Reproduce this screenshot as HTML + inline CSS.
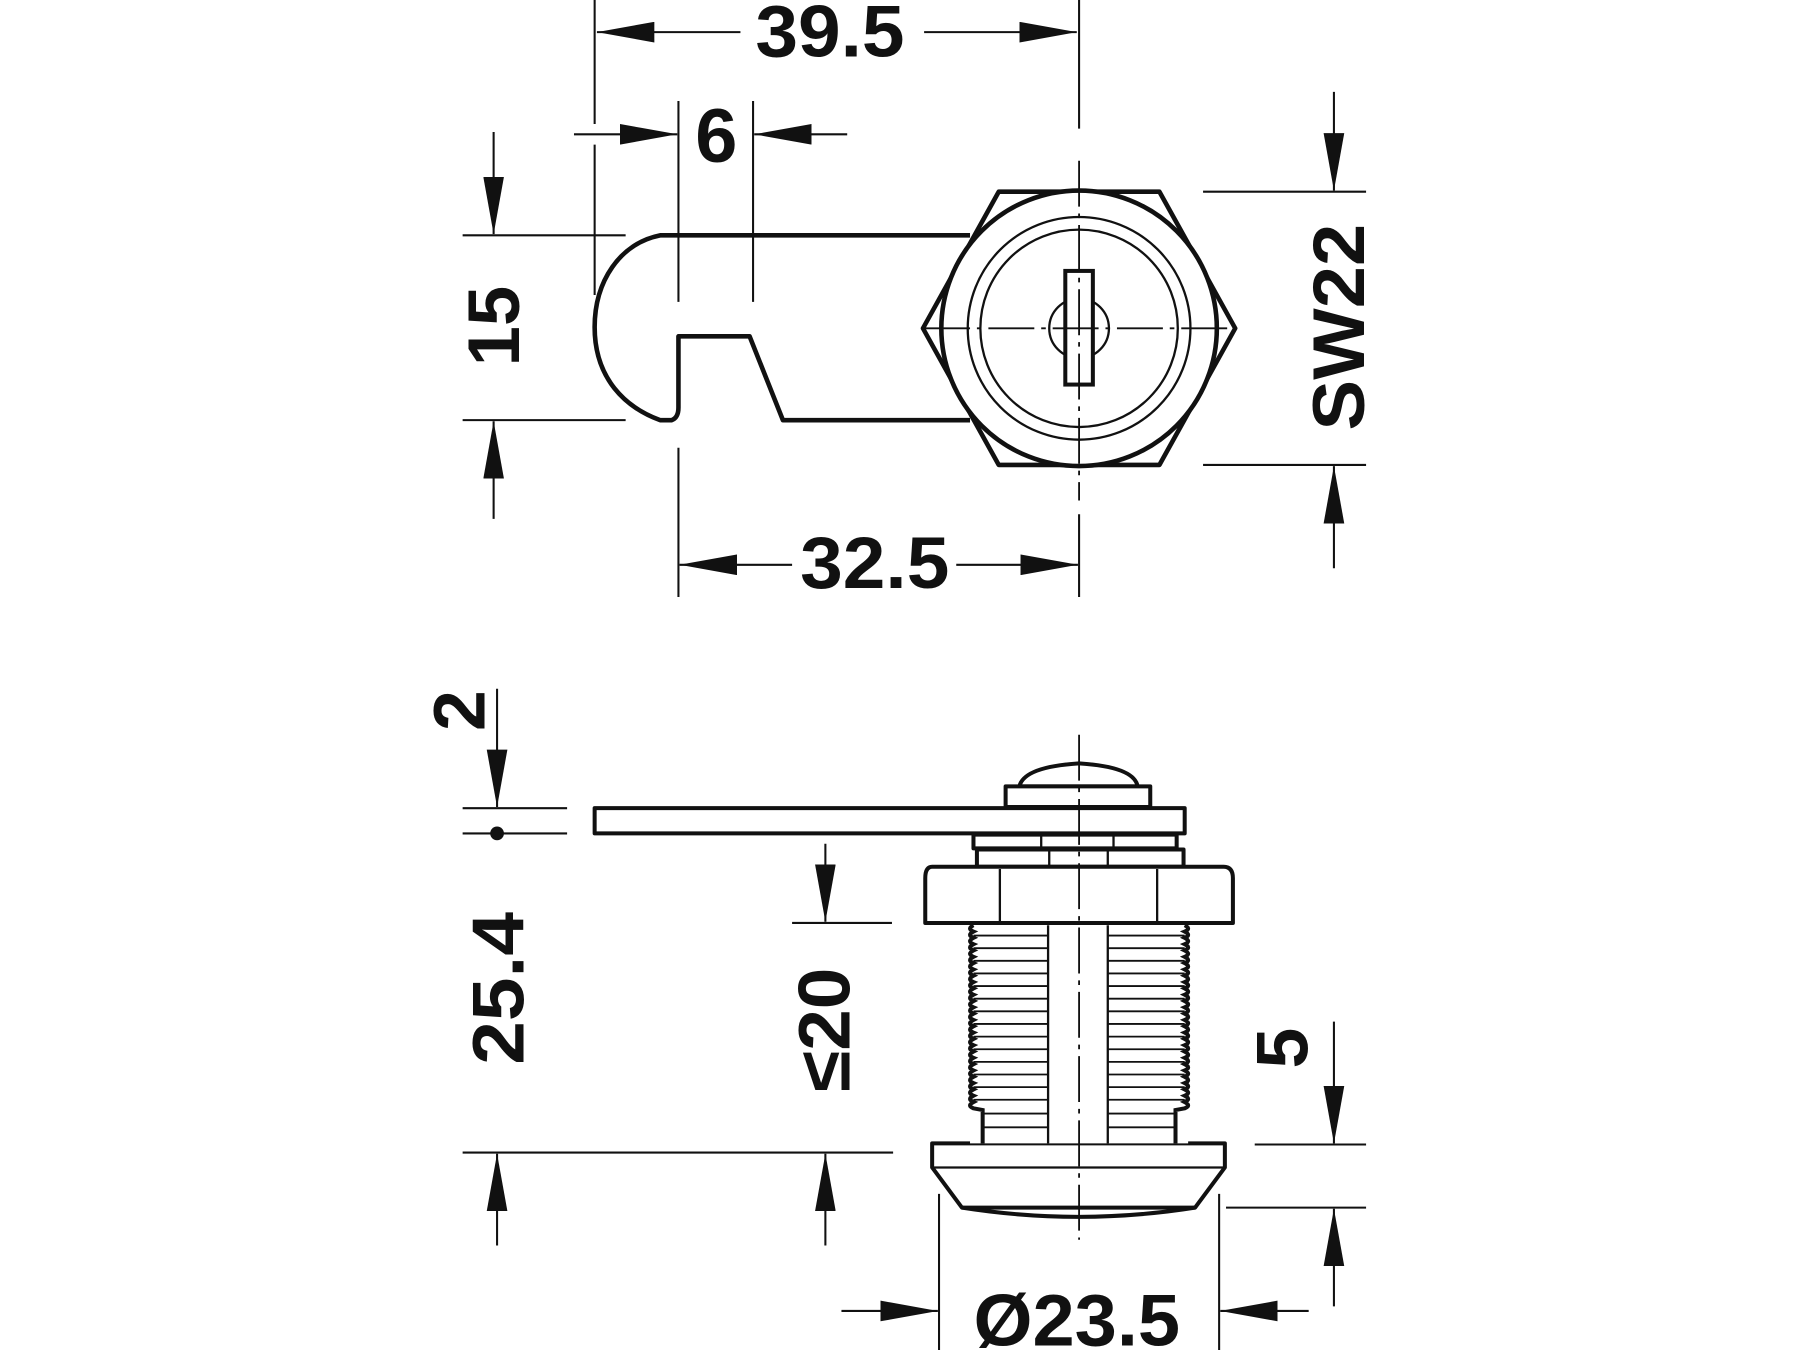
<!DOCTYPE html>
<html><head><meta charset="utf-8"><style>html,body{margin:0;padding:0;background:#fff}svg{display:block}</style></head>
<body>
<svg width="1800" height="1350" viewBox="0 0 1568 1176" xmlns="http://www.w3.org/2000/svg">
<defs>
<marker id="a" viewBox="0 0 50 18" refX="50" refY="9" markerWidth="50" markerHeight="18" markerUnits="userSpaceOnUse" orient="auto"><path d="M0,0 L50,9 L0,18 Z" fill="#111"/></marker>
</defs>
<rect width="1568" height="1176" fill="#fff"/>
<g stroke="#111" stroke-width="1.8" fill="none">
<!-- top view extension lines -->
<line x1="518" y1="0" x2="518" y2="108"/>
<line x1="518" y1="126" x2="518" y2="257"/>
<line x1="940" y1="0" x2="940" y2="112"/>
<line x1="591" y1="88" x2="591" y2="263"/>
<line x1="656" y1="88" x2="656" y2="263"/>
<line x1="403" y1="205" x2="545" y2="205"/>
<line x1="403" y1="366" x2="545" y2="366"/>
<line x1="591" y1="390" x2="591" y2="520"/>
<line x1="940" y1="448" x2="940" y2="520"/>
<line x1="1048" y1="167" x2="1190" y2="167"/>
<line x1="1048" y1="405" x2="1190" y2="405"/>
<!-- dims top -->
<line x1="645" y1="28" x2="520" y2="28" marker-end="url(#a)"/>
<line x1="805" y1="28" x2="938" y2="28" marker-end="url(#a)"/>
<line x1="500" y1="117" x2="590" y2="117" marker-end="url(#a)"/>
<line x1="738" y1="117" x2="657" y2="117" marker-end="url(#a)"/>
<line x1="430" y1="115" x2="430" y2="204" marker-end="url(#a)"/>
<line x1="430" y1="452" x2="430" y2="367" marker-end="url(#a)"/>
<line x1="690" y1="492" x2="592" y2="492" marker-end="url(#a)"/>
<line x1="833" y1="492" x2="939" y2="492" marker-end="url(#a)"/>
<line x1="1162" y1="80" x2="1162" y2="166" marker-end="url(#a)"/>
<line x1="1162" y1="495" x2="1162" y2="406" marker-end="url(#a)"/>
<!-- bottom dims -->
<line x1="433" y1="600" x2="433" y2="703" marker-end="url(#a)"/>
<line x1="403" y1="704" x2="494" y2="704"/>
<line x1="403" y1="726" x2="494" y2="726"/>
<line x1="433" y1="1085" x2="433" y2="1005" marker-end="url(#a)"/>
<line x1="719" y1="1085" x2="719" y2="1005" marker-end="url(#a)"/>
<line x1="403" y1="1004" x2="778" y2="1004"/>
<line x1="719" y1="735" x2="719" y2="803" marker-end="url(#a)"/>
<line x1="690" y1="804" x2="777" y2="804"/>
<line x1="1162" y1="890" x2="1162" y2="996" marker-end="url(#a)"/>
<line x1="1093" y1="997" x2="1190" y2="997"/>
<line x1="1068" y1="1052" x2="1190" y2="1052"/>
<line x1="1162" y1="1138" x2="1162" y2="1053" marker-end="url(#a)"/>
<line x1="818" y1="1040" x2="818" y2="1176"/>
<line x1="1062" y1="1040" x2="1062" y2="1176"/>
<line x1="733" y1="1142" x2="817" y2="1142" marker-end="url(#a)"/>
<line x1="1140" y1="1142" x2="1063" y2="1142" marker-end="url(#a)"/>
</g>
<circle cx="433" cy="726" r="6" fill="#111"/>

<!-- top view part -->
<g stroke="#111" stroke-width="4" fill="none" stroke-linejoin="round">
<path d="M845,205 L575,205 C540,212 518,245 518,285 C518,330 545,355 575,366 L585,366 Q591,364 591,355 L591,293 L653,293 L682,366 L845,366"/>
<polygon points="870,167 1010,167 1076,286 1010,405 870,405 804,286" fill="#fff"/>
</g>
<circle cx="940" cy="286" r="120" fill="#fff" stroke="#111" stroke-width="4"/>
<g stroke="#111" stroke-width="2" fill="none">
<circle cx="940" cy="286" r="97"/>
<circle cx="940" cy="286" r="86"/>
<circle cx="940" cy="286" r="26" fill="#fff"/>
</g>
<rect x="928" y="236" width="24" height="99" fill="#fff" stroke="#111" stroke-width="3.5"/>
<g stroke="#111" stroke-width="1.6">
<line x1="940" y1="140" x2="940" y2="436" stroke-dasharray="40,6,4,6"/>
<line x1="805" y1="286" x2="1076" y2="286" stroke-dasharray="40,6,4,6"/>
</g>

<!-- side view -->
<g stroke="#111" stroke-width="3.5" fill="#fff" stroke-linejoin="round">
<path d="M888,685 Q892,668 940,665 Q988,668 991,685 Z"/>
<rect x="876" y="685" width="126" height="18"/>
<rect x="518" y="704" width="514" height="22"/>
<rect x="848" y="727" width="177" height="12"/>
<rect x="851" y="740" width="180" height="15"/>
<path d="M812,755 L1066,755 Q1074,755 1074,765 L1074,804 L806,804 L806,765 Q806,755 812,755 Z"/>
<path d="M812,996 L1067,996 L1067,1017 L1041,1052 L838,1052 L812,1017 Z"/>
<path d="M838,1052 Q940,1068 1041,1052" fill="none"/>
<rect x="845" y="806" width="190" height="190" stroke="none"/>
</g>
<g stroke="#111" stroke-width="2" fill="none">
<line x1="812" y1="1017" x2="1067" y2="1017"/>
<line x1="907" y1="727" x2="907" y2="739"/><line x1="970" y1="727" x2="970" y2="739"/>
<line x1="914" y1="740" x2="914" y2="755"/><line x1="965" y1="740" x2="965" y2="755"/>
<line x1="871" y1="757" x2="871" y2="804"/><line x1="1008" y1="757" x2="1008" y2="804"/>
<line x1="913" y1="806" x2="913" y2="996"/><line x1="965" y1="806" x2="965" y2="996"/>
<g stroke-width="1.6">
<line x1="848" y1="815" x2="913" y2="815"/><line x1="965" y1="815" x2="1032" y2="815"/>
<line x1="848" y1="826" x2="913" y2="826"/><line x1="965" y1="826" x2="1032" y2="826"/>
<line x1="848" y1="837" x2="913" y2="837"/><line x1="965" y1="837" x2="1032" y2="837"/>
<line x1="848" y1="848" x2="913" y2="848"/><line x1="965" y1="848" x2="1032" y2="848"/>
<line x1="848" y1="859" x2="913" y2="859"/><line x1="965" y1="859" x2="1032" y2="859"/>
<line x1="848" y1="870" x2="913" y2="870"/><line x1="965" y1="870" x2="1032" y2="870"/>
<line x1="848" y1="881" x2="913" y2="881"/><line x1="965" y1="881" x2="1032" y2="881"/>
<line x1="848" y1="892" x2="913" y2="892"/><line x1="965" y1="892" x2="1032" y2="892"/>
<line x1="848" y1="903" x2="913" y2="903"/><line x1="965" y1="903" x2="1032" y2="903"/>
<line x1="848" y1="914" x2="913" y2="914"/><line x1="965" y1="914" x2="1032" y2="914"/>
<line x1="848" y1="925" x2="913" y2="925"/><line x1="965" y1="925" x2="1032" y2="925"/>
<line x1="848" y1="936" x2="913" y2="936"/><line x1="965" y1="936" x2="1032" y2="936"/>
<line x1="848" y1="947" x2="913" y2="947"/><line x1="965" y1="947" x2="1032" y2="947"/>
<line x1="848" y1="958" x2="913" y2="958"/><line x1="965" y1="958" x2="1032" y2="958"/>
<line x1="856" y1="970" x2="913" y2="970"/><line x1="965" y1="970" x2="1024" y2="970"/>
<line x1="856" y1="982" x2="913" y2="982"/><line x1="965" y1="982" x2="1024" y2="982"/>
</g>
</g>
<g stroke="#111" stroke-width="3.5" fill="none">
<path d="M848,806 q-6,3 0,5.5 q-6,3 0,5.5 q-6,3 0,5.5 q-6,3 0,5.5 q-6,3 0,5.5 q-6,3 0,5.5 q-6,3 0,5.5 q-6,3 0,5.5 q-6,3 0,5.5 q-6,3 0,5.5 q-6,3 0,5.5 q-6,3 0,5.5 q-6,3 0,5.5 q-6,3 0,5.5 q-6,3 0,5.5 q-6,3 0,5.5 q-6,3 0,5.5 q-6,3 0,5.5 q-6,3 0,5.5 q-6,3 0,5.5 q-6,3 0,5.5 q-6,3 0,5.5 q-6,3 0,5.5 q-6,3 0,5.5 q-6,3 0,5.5 q-6,3 0,5.5 q-6,3 0,5.5 q-6,3 0,5.5 q-6,3 0,5.5 L856,967 L856,996"/>
<path d="M1032,806 q6,3 0,5.5 q6,3 0,5.5 q6,3 0,5.5 q6,3 0,5.5 q6,3 0,5.5 q6,3 0,5.5 q6,3 0,5.5 q6,3 0,5.5 q6,3 0,5.5 q6,3 0,5.5 q6,3 0,5.5 q6,3 0,5.5 q6,3 0,5.5 q6,3 0,5.5 q6,3 0,5.5 q6,3 0,5.5 q6,3 0,5.5 q6,3 0,5.5 q6,3 0,5.5 q6,3 0,5.5 q6,3 0,5.5 q6,3 0,5.5 q6,3 0,5.5 q6,3 0,5.5 q6,3 0,5.5 q6,3 0,5.5 q6,3 0,5.5 q6,3 0,5.5 q6,3 0,5.5 L1024,967 L1024,996"/>
</g>
<line x1="940" y1="640" x2="940" y2="1080" stroke="#111" stroke-width="1.6" stroke-dasharray="40,6,4,6"/>

<!-- labels -->
<g font-family="Liberation Sans, Arial, sans-serif" font-weight="bold" fill="#111" font-size="64">
<text x="723" y="49" text-anchor="middle" textLength="130" lengthAdjust="spacingAndGlyphs">39.5</text>
<text x="624" y="141" text-anchor="middle" font-size="66">6</text>
<text x="762" y="512" text-anchor="middle" textLength="130" lengthAdjust="spacingAndGlyphs">32.5</text>
<text x="938" y="1172" text-anchor="middle" textLength="180" lengthAdjust="spacingAndGlyphs">Ø23.5</text>
<text transform="translate(452,284) rotate(-90)" text-anchor="middle" textLength="70" lengthAdjust="spacingAndGlyphs">15</text>
<text transform="translate(1188,285) rotate(-90)" text-anchor="middle" textLength="180" lengthAdjust="spacingAndGlyphs">SW22</text>
<text transform="translate(422,619) rotate(-90)" text-anchor="middle">2</text>
<text transform="translate(456,861) rotate(-90)" text-anchor="middle" textLength="133" lengthAdjust="spacingAndGlyphs">25.4</text>
<text transform="translate(740,897) rotate(-90)" text-anchor="middle" textLength="108" lengthAdjust="spacingAndGlyphs">≤20</text>
<text transform="translate(1139,913) rotate(-90)" text-anchor="middle">5</text>
</g>
</svg>
</body></html>
